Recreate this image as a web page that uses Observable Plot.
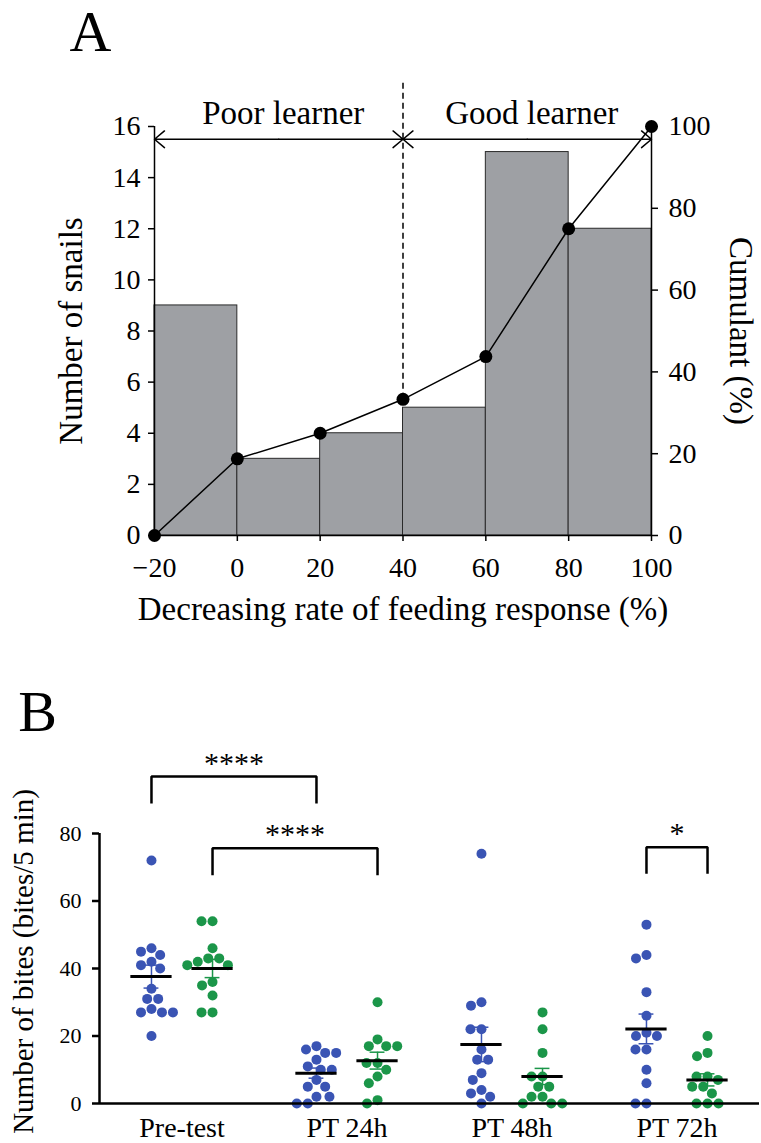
<!DOCTYPE html>
<html><head><meta charset="utf-8">
<script src="https://cdn.jsdelivr.net/npm/d3@7"></script>
<script src="https://cdn.jsdelivr.net/npm/@observablehq/plot@0.6"></script>
<style>
html,body{margin:0;padding:0;background:#fff;}
#chart{width:761px;}
#chart svg{display:block;font-family:'Liberation Serif','Times New Roman',serif !important;}
</style></head><body><div id="chart"></div>
<script>
const FONT = "'Liberation Serif', 'Times New Roman', serif";

// ---------- Panel A data ----------
const binStart = [-20, 0, 20, 40, 60, 80];
const binEnd = [0, 20, 40, 60, 80, 100];
const snailCounts = [9, 3, 4, 5, 15, 12];
const cumulX = [-20, 0, 20, 40, 60, 80, 100];
const cumulPct = [0, 18.75, 25, 33.3, 43.75, 75, 100];
const xTicksA = [-20, 0, 20, 40, 60, 80, 100];
const yTicksA = [0, 2, 4, 6, 8, 10, 12, 14, 16];
const pctTicks = [0, 20, 40, 60, 80, 100];
const learnerLabels = ["Poor learner", "Good learner"];
const learnerFrom = [-20, 40];
const learnerTo = [40, 100];
const threshold = 40;
const yMaxA = 16;
const arrowLevel = 15.5;
const labelLevel = 16.1;
const dashTop = 17.72;

// ---------- Panel B data ----------
const categories = ["Pre-test", "PT 24h", "PT 48h", "PT 72h"];
const groupNames = ["Group 1", "Group 2"];
const groupColors = ["#3a54b4", "#1b9649"];
const bitesG1 = [
  [72, 46, 45, 44, 42, 41, 40, 34, 31, 31, 28, 27, 27, 27, 20],
  [17, 16, 15, 15, 13, 11, 10, 10, 7, 5, 5, 2, 2, 0, 0],
  [74, 30, 29, 22, 22, 16, 13, 13, 9, 7, 4, 3, 2, 0],
  [53, 44, 43, 33, 26, 21, 20, 20, 16, 16, 10, 6, 0, 0]
];
const bitesG2 = [
  [54, 54, 46, 43, 43, 42, 41, 41, 36, 35, 32, 27, 27],
  [30, 19, 17, 17, 17, 12, 12, 10, 8, 6, 1, 0],
  [27, 22, 15, 8, 8, 5, 5, 2, 2, 0, 0, 0],
  [20, 15, 14, 8, 8, 7, 5, 5, 3, 0, 0, 0]
];
const meanG1 = [37.6, 9.0, 17.5, 22.1];
const semG1 = [3.4, 1.5, 5.1, 4.4];
const meanG2 = [40.0, 12.7, 8.0, 7.0];
const semG2 = [2.7, 2.5, 2.4, 1.8];
const yTicksB = [0, 20, 40, 60, 80];
const compFromCat = ["Pre-test", "Pre-test", "PT 72h"];
const compFromGroup = [0, 1, 0];
const compToCat = ["PT 24h", "PT 24h", "PT 72h"];
const compToGroup = [0, 1, 1];
const compTop = [96.9, 75.6, 75.9];
const compBottom = [88.9, 67.6, 68.1];
const compLabel = ["****", "****", "*"];

// ---------- Panel A ----------
const bins = binStart.map((s, i) => ({x1: s, x2: binEnd[i], n: snailCounts[i]}));
const cumul = cumulX.map((x, i) => ({x, pct: cumulPct[i], y: cumulPct[i] * yMaxA / 100}));
const arrows = [];
learnerFrom.forEach((a, i) => {
  const b = learnerTo[i], m = (a + b) / 2;
  arrows.push({x1: m, x2: a, y: arrowLevel});
  arrows.push({x1: m, x2: b, y: arrowLevel});
});
const learnerText = learnerLabels.map((t, i) => ({t, x: (learnerFrom[i] + learnerTo[i]) / 2, y: labelLevel}));
const threshY = cumul.find(d => d.x === threshold).y;

const styleA = `font-family:${FONT};font-size:28px;color:#000;background:#fff;overflow:visible;`;

const plotA = Plot.plot({
  width: 761, height: 660,
  marginLeft: 154, marginRight: 110, marginTop: 126, marginBottom: 125,
  style: styleA,
  x: {domain: [-20, 100]},
  y: {domain: [0, yMaxA]},
  marks: [
    Plot.rectY(bins, {x1: "x1", x2: "x2", y: "n", fill: "#9ea0a4", stroke: "#2a2a2a", strokeWidth: 1}),
    Plot.ruleY([0], {x1: -20, x2: 100, stroke: "#000", strokeWidth: 1.5}),
    Plot.ruleX([-20, 100], {y1: 0, y2: yMaxA, stroke: "#000", strokeWidth: 1.5}),
    Plot.axisX(xTicksA, {tickSize: 6, tickPadding: 16, fontSize: 28, label: null, strokeWidth: 1.5}),
    Plot.axisY(yTicksA, {anchor: "left", tickSize: 6, tickPadding: 8, fontSize: 28, label: null, strokeWidth: 1.5}),
    Plot.axisY(pctTicks.map(p => p * yMaxA / 100), {anchor: "right", tickSize: 6, tickPadding: 11, fontSize: 28, label: null, strokeWidth: 1.5,
      tickFormat: d => Math.round(d * 100 / yMaxA)}),
    Plot.ruleX([threshold], {y1: threshY, y2: dashTop, stroke: "#000", strokeWidth: 1.5, strokeDasharray: "6,4"}),
    Plot.arrow(arrows, {x1: "x1", x2: "x2", y1: "y", y2: "y", stroke: "#000", strokeWidth: 1.5, headLength: 13, headAngle: 80}),
    Plot.text(learnerText, {x: "x", y: "y", text: "t", lineAnchor: "bottom", fontSize: 33, dx: 4.5}),
    Plot.line(cumul, {x: "x", y: "y", stroke: "#000", strokeWidth: 1.5}),
    Plot.dot(cumul, {x: "x", y: "y", r: 6.5, fill: "#000"}),
    Plot.text(["Number of snails"], {text: d => d, frameAnchor: "left", textAnchor: "middle", dx: -83, rotate: -90, fontSize: 33}),
    Plot.text(["Cumulant (%)"], {text: d => d, frameAnchor: "right", textAnchor: "middle", dx: 89, rotate: 90, fontSize: 33}),
    Plot.text(["Decreasing rate of feeding response (%)"], {text: d => d, frameAnchor: "bottom", dy: 84, fontSize: 33}),
    Plot.text(["A"], {text: d => d, frameAnchor: "top-left", textAnchor: "middle", dx: -64, dy: -76, lineAnchor: "bottom", fontSize: 58})
  ]
});

// ---------- Panel B ----------
const W = 761, mLB = 99, mRB = 2;
const bandW = (W - mLB - mRB) / categories.length;
const groupOffset = [-0.185, 0.185];
const rows = [];
categories.forEach((c, i) => {
  bitesG1[i].forEach(v => rows.push({cat: c, g: 0, value: v}));
  bitesG2[i].forEach(v => rows.push({cat: c, g: 1, value: v}));
});
const stats = [];
categories.forEach((c, i) => {
  stats.push({cat: c, g: 0, mean: meanG1[i], sem: semG1[i]});
  stats.push({cat: c, g: 1, mean: meanG2[i], sem: semG2[i]});
});
const caps = stats.flatMap(d => [{...d, y: d.mean - d.sem}, {...d, y: d.mean + d.sem}]);
const bracketPts = [];
const bracketText = [];
compFromCat.forEach((fc, k) => {
  const xa = groupOffset[compFromGroup[k]];
  const xb = (categories.indexOf(compToCat[k]) - categories.indexOf(fc)) + groupOffset[compToGroup[k]];
  [[xa, compBottom[k]], [xa, compTop[k]], [xb, compTop[k]], [xb, compBottom[k]]].forEach(([x, y]) =>
    bracketPts.push({id: k, cat: fc, x, y}));
  bracketText.push({cat: fc, x: (xa + xb) / 2, y: compTop[k], t: compLabel[k]});
});

const dotMarks = groupNames.map((gname, g) =>
  Plot.dot(rows.filter(d => d.g === g), Plot.dodgeX({anchor: "middle", padding: 1},
    {y: "value", fx: "cat", r: 5, fill: groupColors[g], dx: groupOffset[g] * bandW})));

const styleB = `font-family:${FONT};font-size:22px;color:#000;background:#fff;overflow:visible;`;

const plotB = Plot.plot({
  width: W, height: 483,
  marginLeft: mLB, marginRight: mRB, marginTop: 173, marginBottom: 40,
  style: styleB,
  fx: {domain: categories, padding: 0, label: null},
  x: {domain: [-0.5, 0.5], axis: null},
  y: {domain: [0, 80]},
  marks: [
    ...dotMarks,
    Plot.ruleX(stats, {fx: "cat", x: d => groupOffset[d.g], y1: d => d.mean - d.sem, y2: d => d.mean + d.sem,
      stroke: d => groupColors[d.g], strokeWidth: 1.5}),
    Plot.ruleY(caps, {fx: "cat", x1: d => groupOffset[d.g] - 0.045, x2: d => groupOffset[d.g] + 0.045, y: "y",
      stroke: d => groupColors[d.g], strokeWidth: 1.5}),
    Plot.ruleY(stats, {fx: "cat", x1: d => groupOffset[d.g] - 0.125, x2: d => groupOffset[d.g] + 0.125, y: "mean",
      stroke: "#000", strokeWidth: 3}),
    Plot.ruleY([0], {stroke: "#000", strokeWidth: 2.5}),
    Plot.ruleX([{cat: categories[0]}], {fx: "cat", x: -0.5, y1: 0, y2: 80, stroke: "#000", strokeWidth: 2.5}),
    Plot.axisY(yTicksB, {anchor: "left", tickSize: 7, tickPadding: 11, fontSize: 22, label: null, strokeWidth: 2.5}),
    Plot.axisFx({anchor: "bottom", tickSize: 0, tickPadding: 14, fontSize: 28, label: null}),
    Plot.line(bracketPts, {fx: "cat", x: "x", y: "y", z: "id", stroke: "#000", strokeWidth: 2.5,
      strokeLinejoin: "miter", strokeLinecap: "butt"}),
    Plot.text(bracketText, {fx: "cat", x: "x", y: "y", text: "t", dy: -13.5, fontSize: 30}),
    Plot.text([{cat: categories[0], t: "Number of bites (bites/5 min)"}], {fx: "cat", text: "t", frameAnchor: "left",
      textAnchor: "middle", dx: -76, dy: -7, rotate: -90, fontSize: 29}),
    Plot.text([{cat: categories[0], t: "B"}], {fx: "cat", text: "t", frameAnchor: "top-left", textAnchor: "middle",
      dx: -62, dy: -103, lineAnchor: "bottom", fontSize: 58})
  ]
});

const chart = document.getElementById("chart");
chart.appendChild(plotA);
chart.appendChild(plotB);
</script></body></html>
